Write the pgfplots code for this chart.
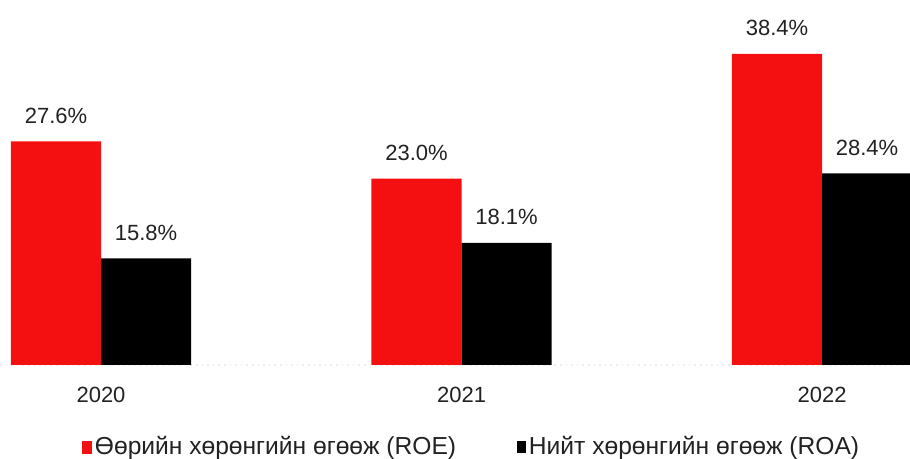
\documentclass[border=0pt]{standalone}
\usepackage{fontspec}
\setmainfont{Liberation Sans}
\usepackage{pgfplots}
\pgfplotsset{compat=1.18}
\definecolor{roered}{HTML}{F41010}
\definecolor{txt}{HTML}{222222}
\begin{document}
\begin{tikzpicture}
\pgfplotsset{
  common/.style={
    at={(0,0)}, anchor=south west,
    scale only axis, width=455pt, height=182.5pt,
    xmin=-0.2802, xmax=2.244, ymin=0,
    ytick=\empty,
    bar width=0.25,
    clip=true,
    font=\fontsize{11pt}{13pt}\selectfont,
    /pgf/number format/assume math mode=true,
    nodes near coords={\pgfmathprintnumber[fixed,fixed zerofill,precision=1]{\pgfplotspointmeta}\%},
    every node near coord/.append style={text=txt, yshift=5.5pt, font=\fontsize{11pt}{13pt}\selectfont},
  }
}
% ROE axis (with year labels and legend)
\begin{axis}[common, ymax=45.06,
    axis y line=none,
    axis x line*=bottom, x axis line style={draw=gray!15, dotted, line width=0.8pt, -},
    xtick={0,1,2}, xticklabels={2020,2021,2022},
    xtick style={draw=none},
    xticklabel style={text=txt, yshift=-7.5pt},
    legend style={at={(0.5187,-0.225)}, anchor=center, draw=none, fill=none,
      legend columns=2, font=\fontsize{12.3pt}{14pt}\selectfont, text=txt,
      nodes={inner xsep=1.5pt},
      /tikz/every even column/.append style={column sep=29pt}},
    legend cell align=left,
  ]
  \addplot[ybar, fill=roered, draw=none, bar shift=-0.125,
    every node near coord/.append style={xshift=-22.5pt},
    legend image code/.code={\fill[roered] (0pt,-3.2pt) rectangle (5pt,3.2pt);}]
    coordinates {(0,27.6) (1,23.0) (2,38.4)};
  \addlegendentry{Өөрийн хөрөнгийн өгөөж (ROE)}
  \addlegendimage{legend image code/.code={\fill[black] (0pt,-2.8pt) rectangle (4pt,2.8pt);}}
  \addlegendentry{Нийт хөрөнгийн өгөөж (ROA)}
\end{axis}
% ROA axis
\begin{axis}[common, ymax=54.1, hide axis]
  \addplot[ybar, fill=black, draw=none, bar shift=0.125,
    every node near coord/.append style={xshift=22.5pt}]
    coordinates {(0,15.8) (1,18.1) (2,28.4)};
\end{axis}
\pgfresetboundingbox
\path[use as bounding box] (0,-47pt) rectangle (455pt,182.5pt);
\end{tikzpicture}
\end{document}
